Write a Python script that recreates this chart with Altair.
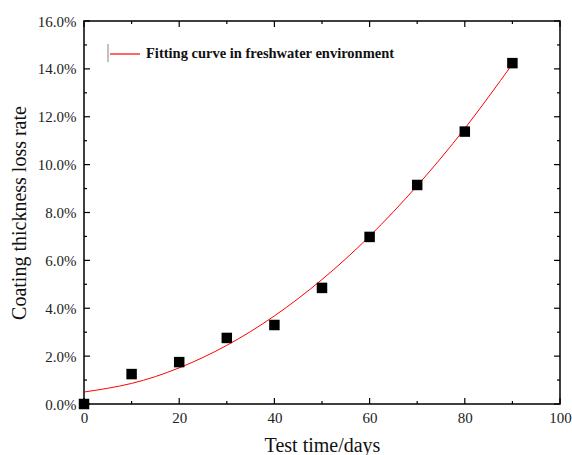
import altair as alt
import pandas as pd

# measured points
days = [0, 10, 20, 30, 40, 50, 60, 70, 80, 90]
loss = [0.0000, 0.0125, 0.0175, 0.0276, 0.0330, 0.0485, 0.0698, 0.0915, 0.1138, 0.1424]

# fitted curve
fit_days = [0, 10, 20, 30, 40, 50, 60, 70, 80, 90]
fit_loss = [0.0050, 0.0086, 0.0151, 0.0245, 0.0368, 0.0520, 0.0701, 0.0912, 0.1151, 0.1420]
fit_name = ["Fitting curve in freshwater environment"]

y_major = [0.00, 0.02, 0.04, 0.06, 0.08, 0.10, 0.12, 0.14, 0.16]
y_minor = [0.01, 0.03, 0.05, 0.07, 0.09, 0.11, 0.13, 0.15]
x_major = [0, 20, 40, 60, 80, 100]
x_minor = [10, 30, 50, 70, 90]

W, H = 476, 383
FONT = "Liberation Serif"

pts = pd.DataFrame({"d": days, "v": loss})
fit = pd.DataFrame({"d": fit_days, "v": fit_loss, "s": fit_name * len(fit_days)})

xs = alt.Scale(domain=[0, 100], nice=False, zero=False)
ys = alt.Scale(domain=[0, 0.16], nice=False, zero=False)

xax = alt.Axis(values=x_major, ticks=False, domain=False, grid=False, labelFont=FONT,
               labelFontSize=15, labelColor="#222", labelPadding=6, title="Test time/days",
               titleFont=FONT, titleFontSize=20, titleFontWeight="normal", titleColor="#111",
               titlePadding=10, labelFlush=False)
yax = alt.Axis(values=y_major, ticks=False, domain=False, grid=False, format=".1%",
               labelFont=FONT, labelFontSize=15, labelColor="#222", labelPadding=8,
               title="Coating thickness loss rate", titleFont=FONT, titleFontSize=20,
               titleFontWeight="normal", titleColor="#111", titlePadding=8, labelFlush=False)

line = alt.Chart(fit).mark_line(color="red", strokeWidth=1, interpolate="natural").encode(
    x=alt.X("d:Q", scale=xs, axis=xax),
    y=alt.Y("v:Q", scale=ys, axis=yax),
    color=alt.Color("s:N", scale=alt.Scale(domain=fit_name, range=["red"]),
                    legend=alt.Legend(title=None, orient="none", legendX=25, legendY=17,
                                      symbolType="stroke", symbolSize=900, symbolStrokeWidth=1.2,
                                      symbolStrokeColor="red",
                                      labelFont=FONT, labelFontSize=14.5, labelFontWeight="bold",
                                      labelColor="#111", labelOffset=5, padding=0, labelLimit=400)),
)

points = alt.Chart(pts).mark_square(size=110, color="black", opacity=1).encode(
    x=alt.X("d:Q", scale=xs), y=alt.Y("v:Q", scale=ys)
)

def yt(vals, x0, x1):
    return alt.Chart(pd.DataFrame({"v": vals})).mark_rule(color="black", strokeWidth=1.2).encode(
        y=alt.Y("v:Q", scale=ys), x=alt.value(x0), x2=alt.value(x1))

def xt(vals, y0, y1):
    return alt.Chart(pd.DataFrame({"d": vals})).mark_rule(color="black", strokeWidth=1.2).encode(
        x=alt.X("d:Q", scale=xs), y=alt.value(y0), y2=alt.value(y1))

ticks = [
    yt(y_major, 0, 6), yt(y_minor, 0, 3), yt(y_major, W - 6, W), yt(y_minor, W - 3, W),
    xt(x_major, H, H - 6), xt(x_minor, H, H - 3), xt(x_major, 0, 6), xt(x_minor, 0, 3),
]

bar = alt.Chart(pd.DataFrame({"a": [0]})).mark_rule(color="#999", strokeWidth=1.2).encode(
    x=alt.value(24), y=alt.value(23), y2=alt.value(41))

chart = alt.layer(line, points, bar, *ticks).properties(
    width=W, height=H,
    autosize=alt.AutoSizeParams(type="none"),
    padding={"left": 84, "top": 21, "right": 12, "bottom": 51},
    background="white",
).configure_view(stroke="black", strokeWidth=1.5)

chart.save("out.html", embed_options={"renderer": "svg", "actions": False})
